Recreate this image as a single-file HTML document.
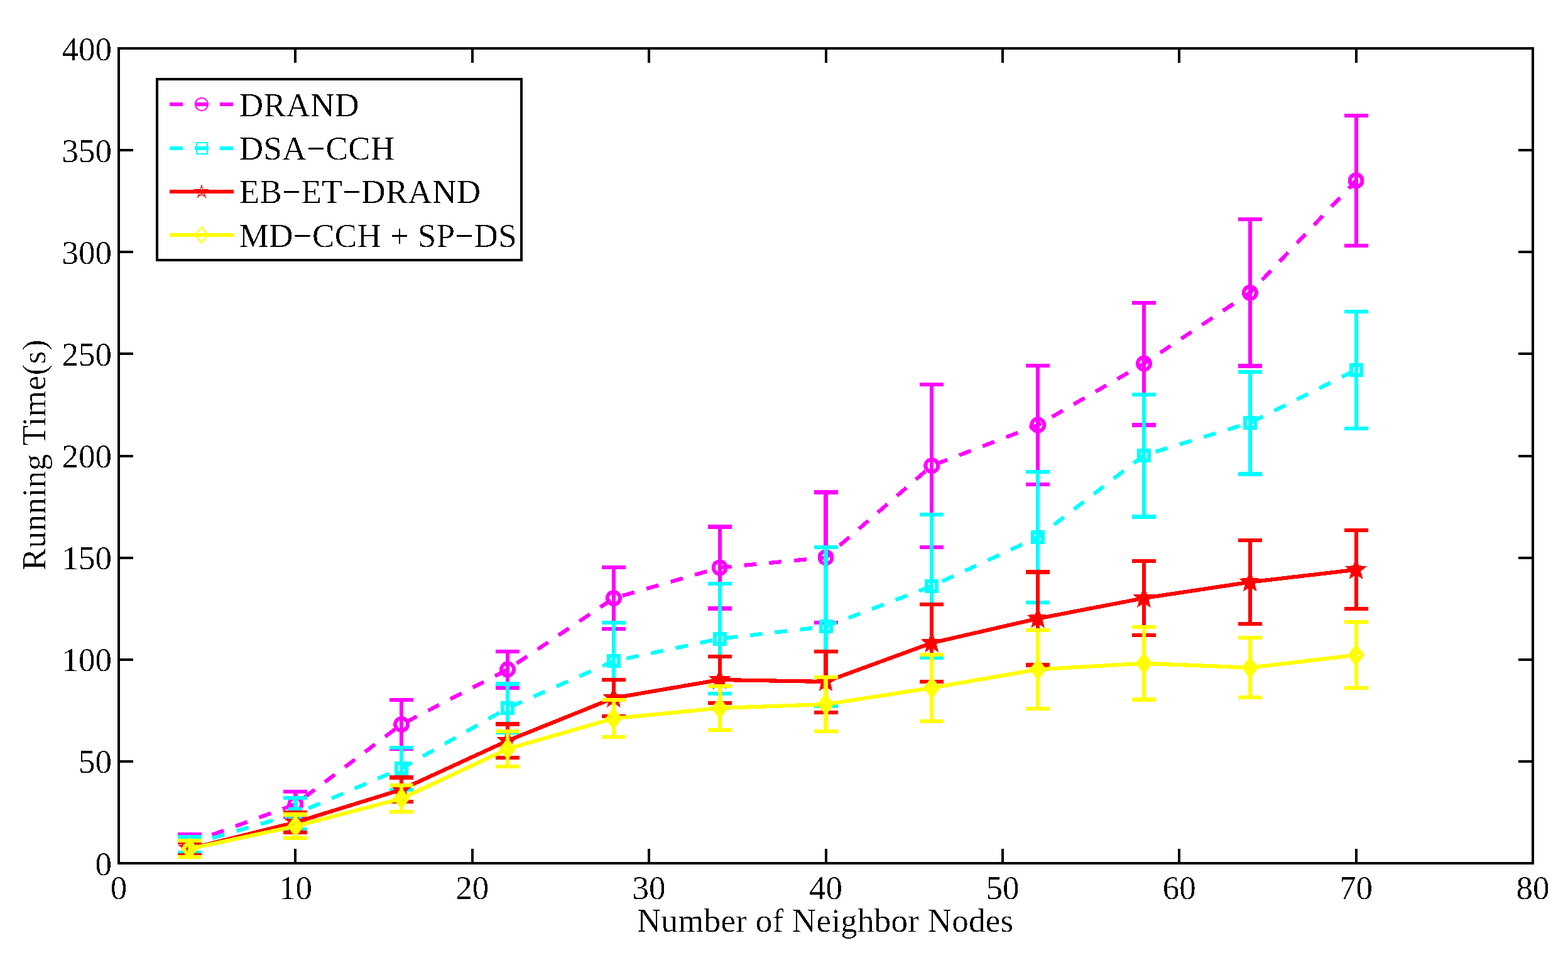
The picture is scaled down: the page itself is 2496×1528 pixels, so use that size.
<!DOCTYPE html>
<html><head><meta charset="utf-8"><title>Running Time vs Number of Neighbor Nodes</title>
<style>html,body{margin:0;padding:0;background:#fff;}body{width:2496px;height:1528px;overflow:hidden;}svg{display:block;}svg path,svg polyline,svg polygon,svg rect,svg circle{shape-rendering:crispEdges;}</style>
</head><body>
<svg width="2496" height="1528" viewBox="0 0 2496 1528"><defs><filter id="bin" x="-0.1" y="-0.3" width="1.2" height="1.6" color-interpolation-filters="sRGB"><feComponentTransfer><feFuncA type="discrete" tableValues="0 0 1"/></feComponentTransfer></filter></defs><rect x="0" y="0" width="2496" height="1528" fill="#fff"/>
<path d="M301.6 1328.0V1357.0M282.6 1328.0H320.6M282.6 1357.0H320.6M470.4 1260.0V1300.0M451.4 1260.0H489.4M451.4 1300.0H489.4M639.2 1114.0V1192.0M620.2 1114.0H658.2M620.2 1192.0H658.2M808.0 1037.0V1094.5M789.0 1037.0H827.0M789.0 1094.5H827.0M976.9 903.3V1000.8M957.9 903.3H995.9M957.9 1000.8H995.9M1145.7 838.4V968.5M1126.7 838.4H1164.7M1126.7 968.5H1164.7M1314.5 783.5V991.0M1295.5 783.5H1333.5M1295.5 991.0H1333.5M1483.3 612.0V871.0M1464.3 612.0H1502.3M1464.3 871.0H1502.3M1652.2 582.3V770.6M1633.2 582.3H1671.2M1633.2 770.6H1671.2M1821.0 482.0V676.4M1802.0 482.0H1840.0M1802.0 676.4H1840.0M1989.8 349.0V582.4M1970.8 349.0H2008.8M1970.8 582.4H2008.8M2158.6 184.0V391.0M2139.6 184.0H2177.6M2139.6 391.0H2177.6" stroke="#ff00ff" stroke-width="6.2" fill="none" stroke-linecap="butt"/>
<polyline points="301.6,1342.0 470.4,1280.0 639.2,1153.0 808.0,1065.6 976.9,952.2 1145.7,903.5 1314.5,887.4 1483.3,741.2 1652.2,676.5 1821.0,578.7 1989.8,466.0 2158.6,287.5" stroke="#ff00ff" stroke-width="6.2" fill="none" stroke-linejoin="round" stroke-dasharray="20 20.05" stroke-dashoffset="2"/>
<circle cx="301.6" cy="1342.0" r="10" stroke="#ff00ff" stroke-width="6" fill="none"/>
<circle cx="470.4" cy="1280.0" r="10" stroke="#ff00ff" stroke-width="6" fill="none"/>
<circle cx="639.2" cy="1153.0" r="10" stroke="#ff00ff" stroke-width="6" fill="none"/>
<circle cx="808.0" cy="1065.6" r="10" stroke="#ff00ff" stroke-width="6" fill="none"/>
<circle cx="976.9" cy="952.2" r="10" stroke="#ff00ff" stroke-width="6" fill="none"/>
<circle cx="1145.7" cy="903.5" r="10" stroke="#ff00ff" stroke-width="6" fill="none"/>
<circle cx="1314.5" cy="887.4" r="10" stroke="#ff00ff" stroke-width="6" fill="none"/>
<circle cx="1483.3" cy="741.2" r="10" stroke="#ff00ff" stroke-width="6" fill="none"/>
<circle cx="1652.2" cy="676.5" r="10" stroke="#ff00ff" stroke-width="6" fill="none"/>
<circle cx="1821.0" cy="578.7" r="10" stroke="#ff00ff" stroke-width="6" fill="none"/>
<circle cx="1989.8" cy="466.0" r="10" stroke="#ff00ff" stroke-width="6" fill="none"/>
<circle cx="2158.6" cy="287.5" r="10" stroke="#ff00ff" stroke-width="6" fill="none"/>
<path d="M301.6 1332.0V1357.0M282.6 1332.0H320.6M282.6 1357.0H320.6M470.4 1270.0V1320.0M451.4 1270.0H489.4M451.4 1320.0H489.4M639.2 1190.0V1257.0M620.2 1190.0H658.2M620.2 1257.0H658.2M808.0 1088.5V1166.0M789.0 1088.5H827.0M789.0 1166.0H827.0M976.9 991.0V1113.6M957.9 991.0H995.9M957.9 1113.6H995.9M1145.7 929.3V1104.0M1126.7 929.3H1164.7M1126.7 1104.0H1164.7M1314.5 871.0V1123.5M1295.5 871.0H1333.5M1295.5 1123.5H1333.5M1483.3 819.0V1047.0M1464.3 819.0H1502.3M1464.3 1047.0H1502.3M1652.2 751.2V958.6M1633.2 751.2H1671.2M1633.2 958.6H1671.2M1821.0 628.0V822.5M1802.0 628.0H1840.0M1802.0 822.5H1840.0M1989.8 592.3V754.5M1970.8 592.3H2008.8M1970.8 754.5H2008.8M2158.6 495.9V681.7M2139.6 495.9H2177.6M2139.6 681.7H2177.6" stroke="#00ffff" stroke-width="6.2" fill="none" stroke-linecap="butt"/>
<polyline points="301.6,1344.5 470.4,1295.5 639.2,1223.0 808.0,1127.0 976.9,1052.3 1145.7,1016.7 1314.5,997.3 1483.3,932.9 1652.2,855.0 1821.0,724.7 1989.8,672.9 2158.6,588.9" stroke="#00ffff" stroke-width="6.2" fill="none" stroke-linejoin="round" stroke-dasharray="20 20.05" stroke-dashoffset="2"/>
<rect x="293.6" y="1336.5" width="16" height="16" stroke="#00ffff" stroke-width="6" fill="none"/>
<rect x="462.4" y="1287.5" width="16" height="16" stroke="#00ffff" stroke-width="6" fill="none"/>
<rect x="631.2" y="1215.0" width="16" height="16" stroke="#00ffff" stroke-width="6" fill="none"/>
<rect x="800.0" y="1119.0" width="16" height="16" stroke="#00ffff" stroke-width="6" fill="none"/>
<rect x="968.9" y="1044.3" width="16" height="16" stroke="#00ffff" stroke-width="6" fill="none"/>
<rect x="1137.7" y="1008.7" width="16" height="16" stroke="#00ffff" stroke-width="6" fill="none"/>
<rect x="1306.5" y="989.3" width="16" height="16" stroke="#00ffff" stroke-width="6" fill="none"/>
<rect x="1475.3" y="924.9" width="16" height="16" stroke="#00ffff" stroke-width="6" fill="none"/>
<rect x="1644.2" y="847.0" width="16" height="16" stroke="#00ffff" stroke-width="6" fill="none"/>
<rect x="1813.0" y="716.7" width="16" height="16" stroke="#00ffff" stroke-width="6" fill="none"/>
<rect x="1981.8" y="664.9" width="16" height="16" stroke="#00ffff" stroke-width="6" fill="none"/>
<rect x="2150.6" y="580.9" width="16" height="16" stroke="#00ffff" stroke-width="6" fill="none"/>
<path d="M301.6 1341.0V1361.0M282.6 1341.0H320.6M282.6 1361.0H320.6M470.4 1293.0V1325.0M451.4 1293.0H489.4M451.4 1325.0H489.4M639.2 1237.5V1276.0M620.2 1237.5H658.2M620.2 1276.0H658.2M808.0 1152.4V1206.0M789.0 1152.4H827.0M789.0 1206.0H827.0M976.9 1082.0V1140.0M957.9 1082.0H995.9M957.9 1140.0H995.9M1145.7 1045.3V1119.0M1126.7 1045.3H1164.7M1126.7 1119.0H1164.7M1314.5 1036.6V1133.6M1295.5 1036.6H1333.5M1295.5 1133.6H1333.5M1483.3 961.7V1085.0M1464.3 961.7H1502.3M1464.3 1085.0H1502.3M1652.2 910.4V1058.5M1633.2 910.4H1671.2M1633.2 1058.5H1671.2M1821.0 893.0V1011.0M1802.0 893.0H1840.0M1802.0 1011.0H1840.0M1989.8 860.2V992.7M1970.8 860.2H2008.8M1970.8 992.7H2008.8M2158.6 844.2V969.3M2139.6 844.2H2177.6M2139.6 969.3H2177.6" stroke="#ff0000" stroke-width="6.2" fill="none" stroke-linecap="butt"/>
<polyline points="301.6,1351.0 470.4,1309.0 639.2,1256.7 808.0,1179.0 976.9,1111.0 1145.7,1082.0 1314.5,1085.0 1483.3,1023.3 1652.2,984.5 1821.0,952.0 1989.8,926.5 2158.6,906.8" stroke="#ff0000" stroke-width="6.2" fill="none" stroke-linejoin="round"/>
<polygon points="301.6,1332.5 306.3,1344.5 319.1,1345.3 309.2,1353.5 312.4,1366.0 301.6,1359.0 290.7,1366.0 293.9,1353.5 284.0,1345.3 296.8,1344.5" fill="#ff0000"/>
<polygon points="470.4,1290.5 475.1,1302.5 488.0,1303.3 478.0,1311.5 481.2,1324.0 470.4,1317.0 459.5,1324.0 462.8,1311.5 452.8,1303.3 465.7,1302.5" fill="#ff0000"/>
<polygon points="639.2,1238.2 643.9,1250.2 656.8,1251.0 646.8,1259.2 650.1,1271.7 639.2,1264.7 628.3,1271.7 631.6,1259.2 621.6,1251.0 634.5,1250.2" fill="#ff0000"/>
<polygon points="808.0,1160.5 812.7,1172.5 825.6,1173.3 815.6,1181.5 818.9,1194.0 808.0,1187.0 797.2,1194.0 800.4,1181.5 790.4,1173.3 803.3,1172.5" fill="#ff0000"/>
<polygon points="976.9,1092.5 981.6,1104.5 994.4,1105.3 984.5,1113.5 987.7,1126.0 976.9,1119.0 966.0,1126.0 969.2,1113.5 959.3,1105.3 972.1,1104.5" fill="#ff0000"/>
<polygon points="1145.7,1063.5 1150.4,1075.5 1163.3,1076.3 1153.3,1084.5 1156.5,1097.0 1145.7,1090.0 1134.8,1097.0 1138.1,1084.5 1128.1,1076.3 1141.0,1075.5" fill="#ff0000"/>
<polygon points="1314.5,1066.5 1319.2,1078.5 1332.1,1079.3 1322.1,1087.5 1325.4,1100.0 1314.5,1093.0 1303.6,1100.0 1306.9,1087.5 1296.9,1079.3 1309.8,1078.5" fill="#ff0000"/>
<polygon points="1483.3,1004.8 1488.0,1016.8 1500.9,1017.6 1490.9,1025.8 1494.2,1038.3 1483.3,1031.3 1472.5,1038.3 1475.7,1025.8 1465.7,1017.6 1478.6,1016.8" fill="#ff0000"/>
<polygon points="1652.2,966.0 1656.9,978.0 1669.7,978.8 1659.8,987.0 1663.0,999.5 1652.2,992.5 1641.3,999.5 1644.5,987.0 1634.6,978.8 1647.4,978.0" fill="#ff0000"/>
<polygon points="1821.0,933.5 1825.7,945.5 1838.6,946.3 1828.6,954.5 1831.8,967.0 1821.0,960.0 1810.1,967.0 1813.4,954.5 1803.4,946.3 1816.3,945.5" fill="#ff0000"/>
<polygon points="1989.8,908.0 1994.5,920.0 2007.4,920.8 1997.4,929.0 2000.7,941.5 1989.8,934.5 1978.9,941.5 1982.2,929.0 1972.2,920.8 1985.1,920.0" fill="#ff0000"/>
<polygon points="2158.6,888.3 2163.3,900.3 2176.2,901.1 2166.2,909.3 2169.5,921.8 2158.6,914.8 2147.8,921.8 2151.0,909.3 2141.0,901.1 2153.9,900.3" fill="#ff0000"/>
<path d="M301.6 1338.0V1364.0M282.6 1338.0H320.6M282.6 1364.0H320.6M470.4 1296.5V1334.0M451.4 1296.5H489.4M451.4 1334.0H489.4M639.2 1250.0V1292.0M620.2 1250.0H658.2M620.2 1292.0H658.2M808.0 1164.0V1220.0M789.0 1164.0H827.0M789.0 1220.0H827.0M976.9 1114.0V1173.0M957.9 1114.0H995.9M957.9 1173.0H995.9M1145.7 1092.0V1162.0M1126.7 1092.0H1164.7M1126.7 1162.0H1164.7M1314.5 1078.0V1164.0M1295.5 1078.0H1333.5M1295.5 1164.0H1333.5M1483.3 1042.0V1147.6M1464.3 1042.0H1502.3M1464.3 1147.6H1502.3M1652.2 1003.0V1128.0M1633.2 1003.0H1671.2M1633.2 1128.0H1671.2M1821.0 998.0V1113.5M1802.0 998.0H1840.0M1802.0 1113.5H1840.0M1989.8 1015.2V1110.2M1970.8 1015.2H2008.8M1970.8 1110.2H2008.8M2158.6 990.0V1095.3M2139.6 990.0H2177.6M2139.6 1095.3H2177.6" stroke="#ffff00" stroke-width="6.2" fill="none" stroke-linecap="butt"/>
<polyline points="301.6,1351.0 470.4,1315.0 639.2,1271.0 808.0,1192.0 976.9,1143.5 1145.7,1127.0 1314.5,1121.0 1483.3,1094.8 1652.2,1065.5 1821.0,1055.8 1989.8,1062.7 2158.6,1042.7" stroke="#ffff00" stroke-width="6.2" fill="none" stroke-linejoin="round"/>
<polygon points="301.6,1338.2 311.2,1351.0 301.6,1363.8 291.9,1351.0" stroke="#ffff00" stroke-width="6.14" fill="none" stroke-linejoin="miter"/>
<polygon points="470.4,1302.2 480.0,1315.0 470.4,1327.8 460.8,1315.0" stroke="#ffff00" stroke-width="6.14" fill="none" stroke-linejoin="miter"/>
<polygon points="639.2,1258.2 648.8,1271.0 639.2,1283.8 629.6,1271.0" stroke="#ffff00" stroke-width="6.14" fill="none" stroke-linejoin="miter"/>
<polygon points="808.0,1179.2 817.6,1192.0 808.0,1204.8 798.4,1192.0" stroke="#ffff00" stroke-width="6.14" fill="none" stroke-linejoin="miter"/>
<polygon points="976.9,1130.7 986.5,1143.5 976.9,1156.3 967.2,1143.5" stroke="#ffff00" stroke-width="6.14" fill="none" stroke-linejoin="miter"/>
<polygon points="1145.7,1114.2 1155.3,1127.0 1145.7,1139.8 1136.1,1127.0" stroke="#ffff00" stroke-width="6.14" fill="none" stroke-linejoin="miter"/>
<polygon points="1314.5,1108.2 1324.1,1121.0 1314.5,1133.8 1304.9,1121.0" stroke="#ffff00" stroke-width="6.14" fill="none" stroke-linejoin="miter"/>
<polygon points="1483.3,1082.0 1492.9,1094.8 1483.3,1107.6 1473.7,1094.8" stroke="#ffff00" stroke-width="6.14" fill="none" stroke-linejoin="miter"/>
<polygon points="1652.2,1052.7 1661.8,1065.5 1652.2,1078.3 1642.6,1065.5" stroke="#ffff00" stroke-width="6.14" fill="none" stroke-linejoin="miter"/>
<polygon points="1821.0,1043.0 1830.6,1055.8 1821.0,1068.6 1811.4,1055.8" stroke="#ffff00" stroke-width="6.14" fill="none" stroke-linejoin="miter"/>
<polygon points="1989.8,1049.9 1999.4,1062.7 1989.8,1075.5 1980.2,1062.7" stroke="#ffff00" stroke-width="6.14" fill="none" stroke-linejoin="miter"/>
<polygon points="2158.6,1029.9 2168.2,1042.7 2158.6,1055.5 2149.0,1042.7" stroke="#ffff00" stroke-width="6.14" fill="none" stroke-linejoin="miter"/>
<rect x="189.0" y="77.0" width="2251.0" height="1297.0" fill="none" stroke="#000" stroke-width="4"/>
<path d="M189.0 1374.0h23M2440.0 1374.0h-23M189.0 1211.9h23M2440.0 1211.9h-23M189.0 1049.8h23M2440.0 1049.8h-23M189.0 887.6h23M2440.0 887.6h-23M189.0 725.5h23M2440.0 725.5h-23M189.0 563.4h23M2440.0 563.4h-23M189.0 401.2h23M2440.0 401.2h-23M189.0 239.1h23M2440.0 239.1h-23M189.0 77.0h23M2440.0 77.0h-23M189.0 1374.0v-23M189.0 77.0v23M470.4 1374.0v-23M470.4 77.0v23M751.8 1374.0v-23M751.8 77.0v23M1033.1 1374.0v-23M1033.1 77.0v23M1314.5 1374.0v-23M1314.5 77.0v23M1595.9 1374.0v-23M1595.9 77.0v23M1877.2 1374.0v-23M1877.2 77.0v23M2158.6 1374.0v-23M2158.6 77.0v23M2440.0 1374.0v-23M2440.0 77.0v23" stroke="#000" stroke-width="4" fill="none"/>
<text x="178" y="1392.5" text-anchor="end" filter="url(#bin)" font-family="'Liberation Serif','Times New Roman',serif" font-size="53">0</text>
<text x="178" y="1230.4" text-anchor="end" filter="url(#bin)" font-family="'Liberation Serif','Times New Roman',serif" font-size="53">50</text>
<text x="178" y="1068.2" text-anchor="end" filter="url(#bin)" font-family="'Liberation Serif','Times New Roman',serif" font-size="53">100</text>
<text x="178" y="906.1" text-anchor="end" filter="url(#bin)" font-family="'Liberation Serif','Times New Roman',serif" font-size="53">150</text>
<text x="178" y="744.0" text-anchor="end" filter="url(#bin)" font-family="'Liberation Serif','Times New Roman',serif" font-size="53">200</text>
<text x="178" y="581.9" text-anchor="end" filter="url(#bin)" font-family="'Liberation Serif','Times New Roman',serif" font-size="53">250</text>
<text x="178" y="419.8" text-anchor="end" filter="url(#bin)" font-family="'Liberation Serif','Times New Roman',serif" font-size="53">300</text>
<text x="178" y="257.6" text-anchor="end" filter="url(#bin)" font-family="'Liberation Serif','Times New Roman',serif" font-size="53">350</text>
<text x="178" y="95.5" text-anchor="end" filter="url(#bin)" font-family="'Liberation Serif','Times New Roman',serif" font-size="53">400</text>
<text x="189.0" y="1431" text-anchor="middle" filter="url(#bin)" font-family="'Liberation Serif','Times New Roman',serif" font-size="53">0</text>
<text x="470.4" y="1431" text-anchor="middle" filter="url(#bin)" font-family="'Liberation Serif','Times New Roman',serif" font-size="53">10</text>
<text x="751.8" y="1431" text-anchor="middle" filter="url(#bin)" font-family="'Liberation Serif','Times New Roman',serif" font-size="53">20</text>
<text x="1033.1" y="1431" text-anchor="middle" filter="url(#bin)" font-family="'Liberation Serif','Times New Roman',serif" font-size="53">30</text>
<text x="1314.5" y="1431" text-anchor="middle" filter="url(#bin)" font-family="'Liberation Serif','Times New Roman',serif" font-size="53">40</text>
<text x="1595.9" y="1431" text-anchor="middle" filter="url(#bin)" font-family="'Liberation Serif','Times New Roman',serif" font-size="53">50</text>
<text x="1877.2" y="1431" text-anchor="middle" filter="url(#bin)" font-family="'Liberation Serif','Times New Roman',serif" font-size="53">60</text>
<text x="2158.6" y="1431" text-anchor="middle" filter="url(#bin)" font-family="'Liberation Serif','Times New Roman',serif" font-size="53">70</text>
<text x="2440.0" y="1431" text-anchor="middle" filter="url(#bin)" font-family="'Liberation Serif','Times New Roman',serif" font-size="53">80</text>
<text x="1313.5" y="1482.7" text-anchor="middle" filter="url(#bin)" font-family="'Liberation Serif','Times New Roman',serif" font-size="53" textLength="599.2" lengthAdjust="spacing">Number of Neighbor Nodes</text>
<text transform="translate(72 724.4) rotate(-90)" x="0" y="0" text-anchor="middle" filter="url(#bin)" font-family="'Liberation Serif','Times New Roman',serif" font-size="53" textLength="367.7" lengthAdjust="spacing">Running Time(s)</text>
<rect x="250" y="125.5" width="580" height="288.5" fill="#fff" stroke="#000" stroke-width="4"/>
<path d="M270 166H291M310 166H332M350 166H371" stroke="#ff00ff" stroke-width="6" fill="none"/>
<circle cx="321" cy="166" r="10" stroke="#ff00ff" stroke-width="2" fill="none"/>
<text x="380.7" y="185.2" filter="url(#bin)" font-family="'Liberation Serif','Times New Roman',serif" font-size="53" textLength="190.8" lengthAdjust="spacing">DRAND</text>
<path d="M270 235.5H291M310 235.5H332M350 235.5H371" stroke="#00ffff" stroke-width="6" fill="none"/>
<rect x="312.5" y="226.5" width="17" height="18" stroke="#00ffff" stroke-width="2" fill="none"/>
<text x="380.7" y="254.1" filter="url(#bin)" font-family="'Liberation Serif','Times New Roman',serif" font-size="53" textLength="247.7" lengthAdjust="spacing">DSA−CCH</text>
<path d="M270 305H372" stroke="#ff0000" stroke-width="6" fill="none"/>
<polygon points="321.0,295.4 323.2,302.2 330.3,302.2 324.6,306.4 326.8,313.1 321.0,308.9 315.2,313.1 317.4,306.4 311.7,302.2 318.8,302.2" stroke="#ff0000" stroke-width="1.5" fill="none"/>
<text x="380.7" y="322.8" filter="url(#bin)" font-family="'Liberation Serif','Times New Roman',serif" font-size="53" textLength="384.4" lengthAdjust="spacing">EB−ET−DRAND</text>
<path d="M270 374H372" stroke="#ffff00" stroke-width="6" fill="none"/>
<polygon points="321,361.5 331.2,374 321,386.5 310.8,374" stroke="#ffff00" stroke-width="2.2" fill="none"/>
<text x="380.7" y="392.6" filter="url(#bin)" font-family="'Liberation Serif','Times New Roman',serif" font-size="53" textLength="442.0" lengthAdjust="spacing">MD−CCH + SP−DS</text></svg>
</body></html>
